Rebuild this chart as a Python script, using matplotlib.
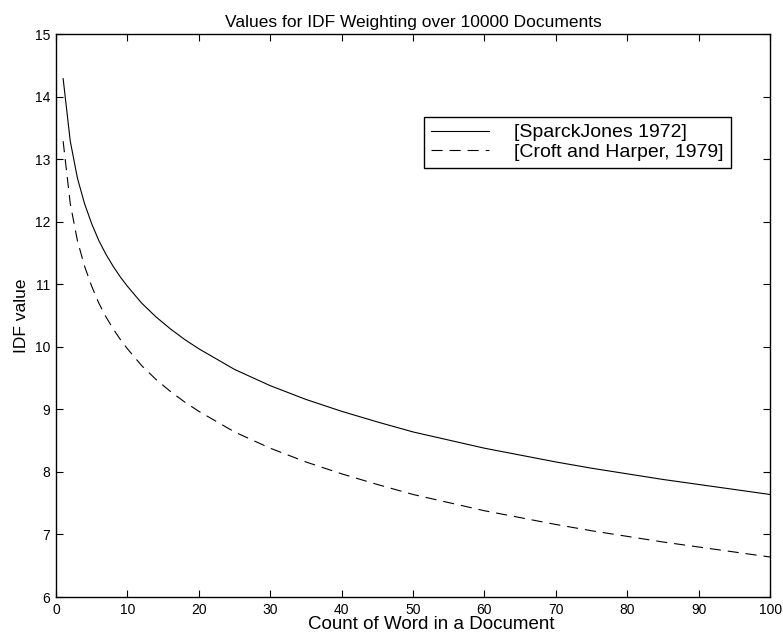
import matplotlib
matplotlib.use('Agg')
import matplotlib.pyplot as plt

# values
count = [1, 2, 3, 4, 5, 6, 7, 8, 9, 10, 12, 14, 16, 18, 20, 25, 30, 35, 40, 45,
         50, 55, 60, 65, 70, 75, 80, 85, 90, 95, 100]
sparck_jones = [14.29, 13.29, 12.70, 12.29, 11.97, 11.70, 11.48, 11.29, 11.12, 10.97,
                10.70, 10.48, 10.29, 10.12, 9.97, 9.64, 9.38, 9.16, 8.97, 8.80,
                8.64, 8.51, 8.38, 8.27, 8.16, 8.06, 7.97, 7.88, 7.80, 7.72, 7.64]
croft_harper = [13.29, 12.29, 11.70, 11.29, 10.97, 10.70, 10.48, 10.29, 10.12, 9.97,
                9.70, 9.48, 9.29, 9.12, 8.97, 8.64, 8.38, 8.16, 7.97, 7.80,
                7.64, 7.51, 7.38, 7.27, 7.16, 7.06, 6.97, 6.88, 6.80, 6.72, 6.64]
labels = ['[SparckJones 1972]', '[Croft and Harper, 1979]']
xticks = list(range(0, 101, 10))
yticks = list(range(6, 16))

plt.rcParams['font.family'] = ['Liberation Sans', 'DejaVu Sans']
plt.rcParams['lines.scale_dashes'] = False

fig = plt.figure(figsize=(7.83, 6.41), dpi=100)
ax = fig.add_axes([0.0715, 0.0686, 0.912, 0.878])

ax.plot(count, sparck_jones, color='black', lw=0.8, label=labels[0])
ax.plot(count, croft_harper, color='black', lw=0.8, dashes=(8, 5), label=labels[1])

ax.set_xlim(0, 100)
ax.set_ylim(6, 15)
ax.set_xticks(xticks)
ax.set_yticks(yticks)
ax.tick_params(direction='in', length=5, width=0.8, top=True, right=True,
               labelsize=10, pad=4)
for s in ax.spines.values():
    s.set_linewidth(1.0)

ax.set_title('Values for IDF Weighting over 10000 Documents', fontsize=12.5, pad=5)
ax.set_xlabel('Count of Word in a Document', fontsize=13.5)
ax.xaxis.set_label_coords(0.525, -0.033)
ax.set_ylabel('IDF value', fontsize=12.5, labelpad=4)

leg = ax.legend(loc='upper right', bbox_to_anchor=(0.945, 0.853), borderaxespad=0,
                fontsize=14, handlelength=3.0, handletextpad=1.3, labelspacing=0.1,
                borderpad=0.35, fancybox=False, edgecolor='black', framealpha=1)
leg.get_frame().set_linewidth(1.0)

fig.savefig('out.png', dpi=100)
